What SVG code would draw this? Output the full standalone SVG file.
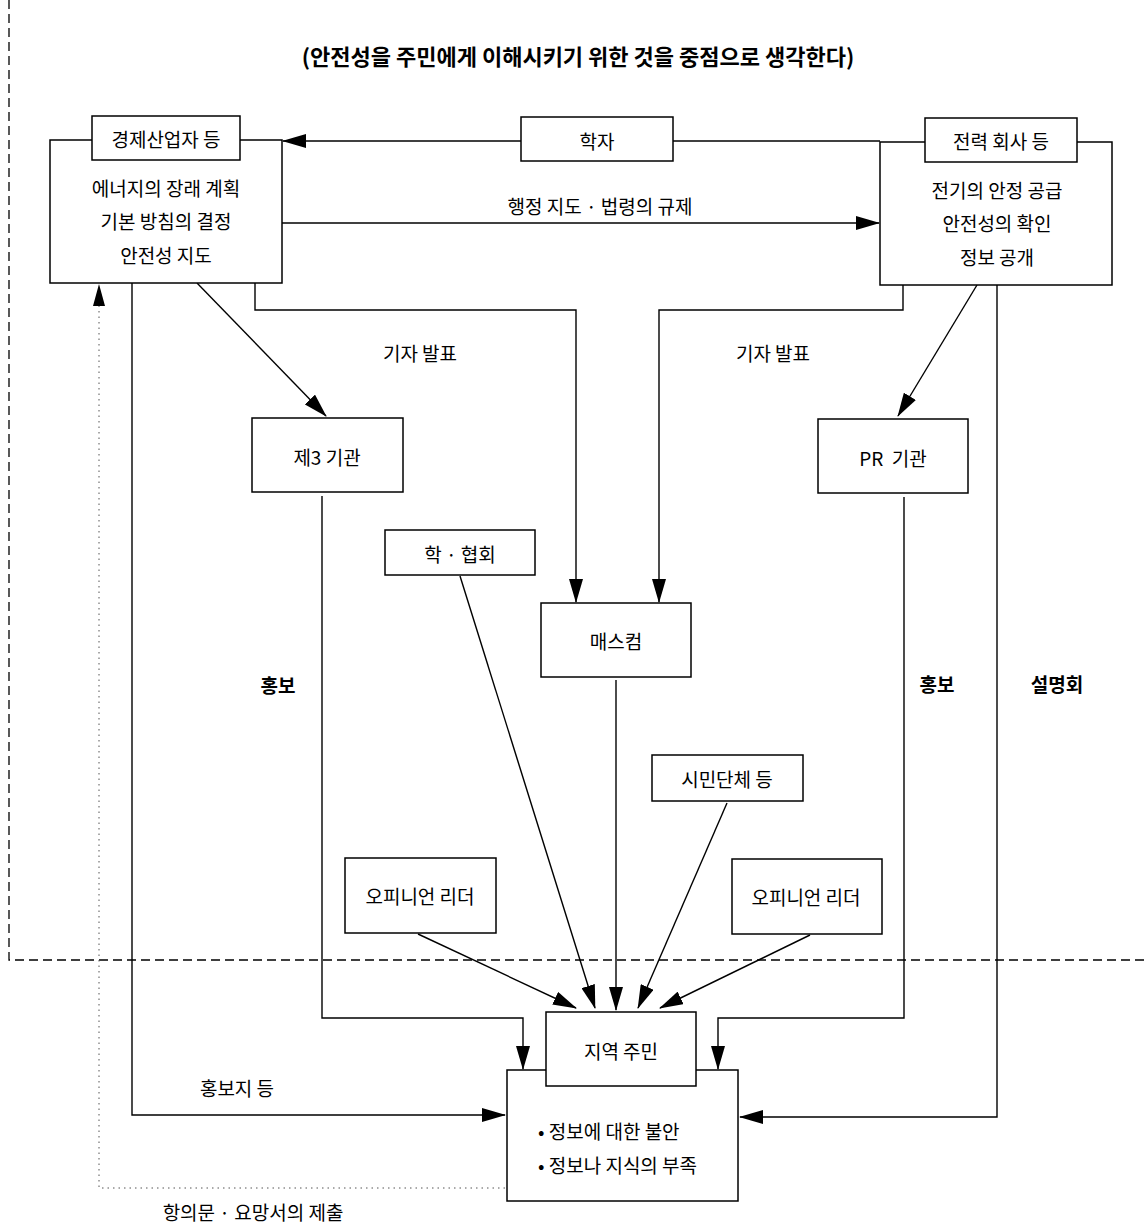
<svg xmlns="http://www.w3.org/2000/svg" width="1145" height="1225" viewBox="0 0 1145 1225">
<style>
.box{fill:#fff;stroke:#000;stroke-width:1.5}
.t{font-family:"Noto Sans CJK KR","Noto Sans",sans-serif;font-size:19px;fill:#000;text-anchor:middle;dominant-baseline:central}
.tl{font-family:"Noto Sans CJK KR","Noto Sans",sans-serif;font-size:19px;fill:#000;dominant-baseline:central}
.b{font-weight:bold}
.c{fill:none;stroke:#000;stroke-width:1.4}
</style>
<defs>
<marker id="ah" markerWidth="24" markerHeight="14" refX="23" refY="7" orient="auto" markerUnits="userSpaceOnUse"><path d="M0,0 L24,7 L0,14 z" fill="#000"/></marker>
</defs>
<rect width="1145" height="1225" fill="#fff"/>
<path d="M9,0 L9,960 L1145,960" fill="none" stroke="#000" stroke-width="1.3" stroke-dasharray="9,5"/>
<text class="t b" x="578" y="55" style="font-size:22px">(안전성을 주민에게 이해시키기 위한 것을 중점으로 생각한다)</text>

<g id="connectors">
<line class="c" x1="521" y1="141" x2="283" y2="141" marker-end="url(#ah)"/>
<line class="c" x1="673" y1="141" x2="880" y2="141"/>
<line class="c" x1="282" y1="223" x2="879" y2="223" marker-end="url(#ah)"/>
<polyline class="c" points="255,283 255,310 576,310 576,602" marker-end="url(#ah)"/>
<polyline class="c" points="903,285 903,310 659,310 659,602" marker-end="url(#ah)"/>
<line class="c" x1="197" y1="283" x2="326" y2="416" marker-end="url(#ah)"/>
<line class="c" x1="977" y1="285" x2="898" y2="416" marker-end="url(#ah)"/>
<polyline class="c" points="322,496 322,1018 523,1018 523,1069" marker-end="url(#ah)"/>
<polyline class="c" points="904,497 904,1018 718,1018 718,1069" marker-end="url(#ah)"/>
<polyline class="c" points="997,285 997,1117 740,1117" marker-end="url(#ah)"/>
<polyline class="c" points="132,283 132,1115 505,1115" marker-end="url(#ah)"/>
<line class="c" x1="460" y1="576" x2="595" y2="1008" marker-end="url(#ah)"/>
<line class="c" x1="616" y1="680" x2="616" y2="1010" marker-end="url(#ah)"/>
<line class="c" x1="727" y1="803" x2="638" y2="1008" marker-end="url(#ah)"/>
<line class="c" x1="418" y1="934" x2="576" y2="1008" marker-end="url(#ah)"/>
<line class="c" x1="810" y1="935" x2="660" y2="1008" marker-end="url(#ah)"/>
<polyline points="505,1188 99,1188 99,305" fill="none" stroke="#555" stroke-width="1" stroke-dasharray="1.5,4"/>
<path d="M93,306 L99,284 L105,306 z" fill="#000"/>
</g>

<g id="n-keizai">
<rect class="box" x="50" y="140" width="232" height="143"/>
<rect class="box" x="92" y="116" width="148" height="44"/>
<text class="t" x="166" y="138">경제산업자 등</text>
<text class="t" x="166" y="187">에너지의 장래 계획</text>
<text class="t" x="166" y="220">기본 방침의 결정</text>
<text class="t" x="166" y="254">안전성 지도</text>
</g>
<g id="n-denryoku">
<rect class="box" x="880" y="142" width="232" height="143"/>
<rect class="box" x="925" y="118" width="152" height="44"/>
<text class="t" x="1001" y="140">전력 회사 등</text>
<text class="t" x="997" y="189">전기의 안정 공급</text>
<text class="t" x="997" y="222">안전성의 확인</text>
<text class="t" x="997" y="256">정보 공개</text>
</g>
<g id="n-gakusha">
<rect class="box" x="521" y="117" width="152" height="44"/>
<text class="t" x="597" y="140">학자</text>
</g>
<g id="n-third">
<rect class="box" x="252" y="418" width="151" height="74"/>
<text class="t" x="327" y="456">제3 기관</text>
</g>
<g id="n-pr">
<rect class="box" x="818" y="419" width="150" height="74"/>
<text class="t" x="893" y="457" xml:space="preserve">PR  기관</text>
</g>
<g id="n-gakkai">
<rect class="box" x="385" y="530" width="150" height="45"/>
<text class="t" x="460" y="553">학 · 협회</text>
</g>
<g id="n-masscom">
<rect class="box" x="541" y="603" width="150" height="74"/>
<text class="t" x="616" y="640">매스컴</text>
</g>
<g id="n-shimin">
<rect class="box" x="652" y="755" width="151" height="46"/>
<text class="t" x="727" y="778">시민단체 등</text>
</g>
<g id="n-opinion-l">
<rect class="box" x="345" y="858" width="151" height="75"/>
<text class="t" x="420" y="895">오피니언 리더</text>
</g>
<g id="n-opinion-r">
<rect class="box" x="732" y="859" width="150" height="75"/>
<text class="t" x="806" y="896">오피니언 리더</text>
</g>
<g id="n-residents">
<rect class="box" x="507" y="1070" width="231" height="131"/>
<rect class="box" x="546" y="1012" width="150" height="74"/>
<text class="t" x="621" y="1050">지역 주민</text>
<text class="tl" x="538" y="1130">• 정보에 대한 불안</text>
<text class="tl" x="538" y="1164">• 정보나 지식의 부족</text>
</g>

<g id="labels">
<text class="t" x="600" y="205">행정 지도 · 법령의 규제</text>
<text class="t" x="420" y="352">기자 발표</text>
<text class="t" x="773" y="352">기자 발표</text>
<text class="t b" x="278" y="684">홍보</text>
<text class="t b" x="937" y="683">홍보</text>
<text class="t b" x="1057" y="683">설명회</text>
<text class="t" x="237" y="1087">홍보지 등</text>
<text class="t" x="253" y="1211">항의문 · 요망서의 제출</text>
</g>
</svg>
